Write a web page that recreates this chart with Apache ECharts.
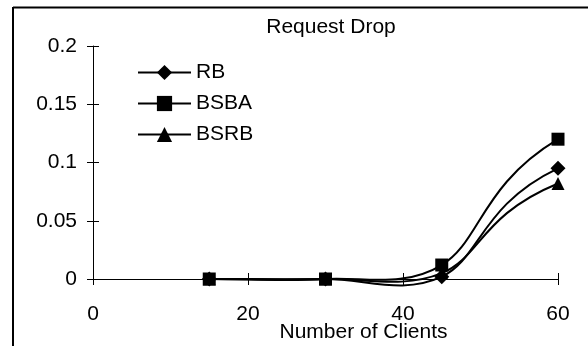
<!DOCTYPE html>
<html><head><meta charset="utf-8">
<script src="https://cdn.jsdelivr.net/npm/echarts@6/dist/echarts.min.js"></script>
<style>html,body{margin:0;padding:0;background:#fff}#c{width:588px;height:346px}</style>
</head><body><div id="c"></div>
<script>
var clients = [15, 30, 45, 60];
var rb   = [0, 0, 0.002, 0.095];
var bsba = [0, 0, 0.012, 0.120];
var bsrb = [0, 0, 0.005, 0.082];
var seriesNames = ['RB', 'BSBA', 'BSRB'];
var xTicks = [0, 20, 40, 60];
var yTicks = [0, 0.05, 0.1, 0.15, 0.2];

var TENSION = 1/6, END_TENSION = 1/3;
function pairs(xs, ys){ return xs.map(function(x,i){return [x, ys[i]];}); }
var font = '"Liberation Sans", Arial, sans-serif';
var FS = 21;

// Excel-style smoothed line drawn as Bezier segments through the axis scales
function curveSeries(name, ys){
  return {name:name + ' curve', type:'custom', z:1, silent:true, clip:false,
    data:pairs(clients, ys),
    renderItem:function(params, api){
      if (params.dataIndex !== 0) return {type:'group', children:[]};
      var P = clients.map(function(x,i){ return api.coord([x, ys[i]]); });
      var n = P.length;
      function handle(i){
        var a, b, f;
        if (i===0){ a=P[0]; b=P[1]; f=END_TENSION; }
        else if (i===n-1){ a=P[Math.max(0,n-3)]; b=P[n-1]; f=END_TENSION; }
        else { a=P[i-1]; b=P[i+1]; f=TENSION; }
        return [(b[0]-a[0])*f, (b[1]-a[1])*f];
      }
      var kids = [];
      for (var j=0;j<n-1;j++){
        var h0 = handle(j), h1 = handle(j+1);
        kids.push({type:'bezierCurve', shape:{
          x1:P[j][0], y1:P[j][1], x2:P[j+1][0], y2:P[j+1][1],
          cpx1:P[j][0]+h0[0], cpy1:P[j][1]+h0[1],
          cpx2:P[j+1][0]-h1[0], cpy2:P[j+1][1]-h1[1]},
          style:{fill:null, stroke:'#000', lineWidth:2}});
      }
      return {type:'group', children:kids};
    }};
}
function markSeries(name, ys, sym, size){
  return {name:name, type:'line', z:3, data:pairs(clients, ys), symbol:sym, symbolSize:size,
    clip:false, lineStyle:{color:'#000', width:2, opacity:0}, itemStyle:{color:'#000'}};
}
var axisCommonX = {type:'value', min:xTicks[0], max:xTicks[xTicks.length-1], interval:xTicks[1]-xTicks[0]};
var axisCommonY = {type:'value', min:yTicks[0], max:yTicks[yTicks.length-1], interval:yTicks[1]-yTicks[0]};
var chart = echarts.init(document.getElementById('c'));
chart.setOption({
  animation:false,
  backgroundColor:'#fff',
  title:{text:'Request Drop', left:331, top:16.5, padding:0, textAlign:'center',
    textStyle:{fontFamily:font, fontSize:FS, fontWeight:'normal', color:'#000'}},
  grid:{left:93, right:30, top:46, bottom:67, containLabel:false, outerBoundsMode:'none'},
  legend:{left:137, top:62, padding:0, orient:'vertical', itemGap:10, itemWidth:53, itemHeight:19,
    lineStyle:{color:'#000', width:2, opacity:1},
    textStyle:{fontFamily:font, fontSize:FS, color:'#000'},
    data:seriesNames},
  xAxis:[
    Object.assign({}, axisCommonX, {
      name:'Number of Clients', nameLocation:'middle', nameGap:43, nameMoveOverlap:false,
      nameTextStyle:{fontFamily:font, fontSize:FS, color:'#000', padding:[0,0,0,76]},
      axisLine:{lineStyle:{color:'#000', width:1}},
      axisTick:{show:true, length:6, inside:false, lineStyle:{color:'#000'}},
      axisLabel:{fontFamily:font, fontSize:FS, color:'#000', margin:25},
      splitLine:{show:false}}),
    Object.assign({}, axisCommonX, {
      position:'bottom', axisLine:{show:false},
      axisTick:{show:true, length:6, inside:true, lineStyle:{color:'#000'}},
      axisLabel:{show:false}, splitLine:{show:false}})
  ],
  yAxis:[
    Object.assign({}, axisCommonY, {
      axisLine:{show:true, lineStyle:{color:'#000', width:1}},
      axisTick:{show:true, length:6, lineStyle:{color:'#000'}},
      axisLabel:{fontFamily:font, fontSize:FS, color:'#000', margin:16,
        formatter:function(v){return String(Math.round(v*100)/100);}},
      splitLine:{show:false}}),
    Object.assign({}, axisCommonY, {
      position:'left', axisLine:{show:false},
      axisTick:{show:true, length:6, inside:true, lineStyle:{color:'#000'}},
      axisLabel:{show:false}, splitLine:{show:false}})
  ],
  graphic:[
    {type:'line', shape:{x1:13, y1:7.5, x2:588, y2:7.5}, style:{stroke:'#000', lineWidth:2}},
    {type:'line', shape:{x1:13, y1:7, x2:13, y2:346}, style:{stroke:'#000', lineWidth:2}}
  ],
  series:[
    curveSeries(seriesNames[0], rb),
    curveSeries(seriesNames[1], bsba),
    curveSeries(seriesNames[2], bsrb),
    markSeries(seriesNames[0], rb, 'diamond', 15),
    markSeries(seriesNames[1], bsba, 'rect', 13),
    markSeries(seriesNames[2], bsrb, 'triangle', 13)
  ]
});
</script></body></html>
